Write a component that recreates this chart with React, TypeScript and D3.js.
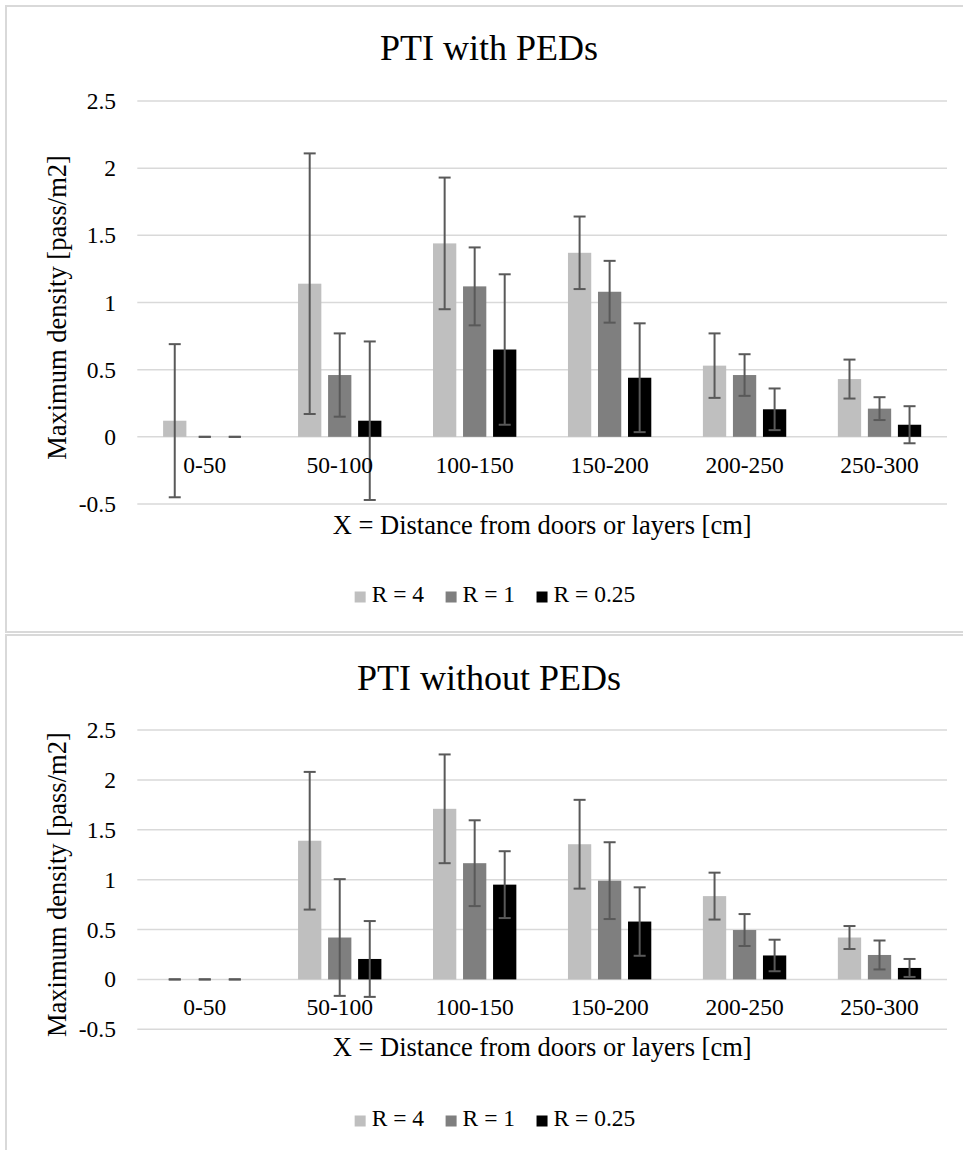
import React, { useEffect, useRef } from "react";
import * as d3 from "d3";

const categories = ["0-50", "50-100", "100-150", "150-200", "200-250", "250-300"];
const seriesNames = ["R = 4", "R = 1", "R = 0.25"];
const seriesColors = ["#bfbfbf", "#7f7f7f", "#000000"];
const yTicks = [-0.5, 0, 0.5, 1, 1.5, 2, 2.5];
const yTickLabels = ["-0.5", "0", "0.5", "1", "1.5", "2", "2.5"];

// PTI with PEDs
const withR4 = [0.12, 1.14, 1.44, 1.37, 0.53, 0.43];
const withR4Err = [0.57, 0.97, 0.49, 0.27, 0.24, 0.145];
const withR1 = [0, 0.46, 1.12, 1.08, 0.46, 0.21];
const withR1Err = [0, 0.31, 0.29, 0.23, 0.155, 0.085];
const withR025 = [0, 0.12, 0.65, 0.44, 0.205, 0.09];
const withR025Err = [0, 0.59, 0.56, 0.405, 0.155, 0.138];

// PTI without PEDs
const withoutR4 = [0, 1.39, 1.71, 1.355, 0.835, 0.42];
const withoutR4Err = [0, 0.69, 0.545, 0.445, 0.235, 0.115];
const withoutR1 = [0, 0.42, 1.165, 0.99, 0.495, 0.245];
const withoutR1Err = [0, 0.585, 0.43, 0.385, 0.16, 0.145];
const withoutR025 = [0, 0.205, 0.95, 0.58, 0.24, 0.115];
const withoutR025Err = [0, 0.38, 0.335, 0.343, 0.158, 0.09];

const titles = ["PTI with PEDs", "PTI without PEDs"];
const xTitle = "X = Distance from doors or layers [cm]";
const yTitle = "Maximum density [pass/m2]";

const FONT = '"Liberation Serif", "Times New Roman", Times, serif';

export default function App() {
  const ref = useRef<SVGSVGElement | null>(null);

  useEffect(() => {
    const svg = d3.select(ref.current);
    svg.selectAll("*").remove();

    const panels = [
      {
        title: titles[0],
        values: [withR4, withR1, withR025],
        errors: [withR4Err, withR1Err, withR025Err],
        box: [6, 6, 975, 626],
        titleY: 60, plotTop: 101, plotBottom: 504, catY: 473, xTitleY: 534, legendY: 602,
      },
      {
        title: titles[1],
        values: [withoutR4, withoutR1, withoutR025],
        errors: [withoutR4Err, withoutR1Err, withoutR025Err],
        box: [6, 635, 975, 600],
        titleY: 690, plotTop: 730, plotBottom: 1029.3, catY: 1015, xTitleY: 1056, legendY: 1126,
      },
    ];

    const plotLeft = 137.3;
    const plotRight = 947;

    const txt = (sel: any, size: number) =>
      sel.style("font-family", FONT).style("font-size", size + "px").attr("fill", "#000");

    panels.forEach((p) => {
      const g = svg.append("g");
      g.append("rect")
        .attr("x", p.box[0]).attr("y", p.box[1])
        .attr("width", p.box[2]).attr("height", p.box[3])
        .attr("fill", "#ffffff").attr("stroke", "#d9d9d9").attr("stroke-width", 2);

      const x = d3.scaleBand<string>().domain(categories).range([plotLeft, plotRight]);
      const y = d3.scaleLinear().domain([-0.5, 2.5]).range([p.plotBottom, p.plotTop]);
      const bw = x.bandwidth();
      const barW = bw * 0.1725;
      const step = bw * 0.2225;

      // gridlines
      g.selectAll(".grid").data(yTicks).enter().append("line")
        .attr("x1", plotLeft).attr("x2", plotRight)
        .attr("y1", (d) => y(d)).attr("y2", (d) => y(d))
        .attr("stroke", "#d9d9d9").attr("stroke-width", 1.5);

      // tick labels
      txt(
        g.selectAll(".tick").data(yTicks).enter().append("text")
          .attr("x", 116).attr("y", (d) => y(d) + 8)
          .attr("text-anchor", "end"),
        23.5
      ).text((d: number, i: number) => yTickLabels[i]);

      // bars
      p.values.forEach((vals, si) => {
        const cx = (c: string) => (x(c) as number) + bw / 2 + (si - 1) * step;
        g.selectAll(".bar" + si).data(categories).enter().append("rect")
          .attr("x", (c) => cx(c) - barW / 2)
          .attr("y", (c, i) => Math.min(y(vals[i]), y(0)))
          .attr("width", barW)
          .attr("height", (c, i) => Math.abs(y(0) - y(vals[i])))
          .attr("fill", seriesColors[si]);
      });

      // error bars
      p.values.forEach((vals, si) => {
        const errs = p.errors[si];
        const cx = (c: string) => (x(c) as number) + bw / 2 + (si - 1) * step;
        const eg = g.append("g").attr("stroke", "#595959").attr("stroke-width", 2);
        categories.forEach((c, i) => {
          const hi = y(vals[i] + errs[i]);
          const lo = y(vals[i] - errs[i]);
          const xc = cx(c);
          eg.append("line").attr("x1", xc).attr("x2", xc).attr("y1", hi).attr("y2", lo);
          eg.append("line").attr("x1", xc - 6).attr("x2", xc + 6).attr("y1", hi).attr("y2", hi);
          eg.append("line").attr("x1", xc - 6).attr("x2", xc + 6).attr("y1", lo).attr("y2", lo);
        });
      });

      // category labels
      txt(
        g.selectAll(".cat").data(categories).enter().append("text")
          .attr("x", (c) => (x(c) as number) + bw / 2)
          .attr("y", p.catY)
          .attr("text-anchor", "middle"),
        23.5
      ).text((c: string) => c);

      // title
      txt(
        g.append("text").attr("x", 489).attr("y", p.titleY).attr("text-anchor", "middle"),
        36
      ).text(p.title);

      // axis titles
      txt(
        g.append("text")
          .attr("x", (plotLeft + plotRight) / 2).attr("y", p.xTitleY)
          .attr("text-anchor", "middle"),
        26.5
      ).text(xTitle);

      const yc = (p.plotTop + p.plotBottom) / 2 + 5;
      txt(
        g.append("text")
          .attr("transform", `translate(66,${yc}) rotate(-90)`)
          .attr("text-anchor", "middle"),
        26.5
      ).text(yTitle);

      // legend
      const lg = g.append("g");
      const items: { g: any; w: number }[] = [];
      seriesNames.forEach((name, si) => {
        const ig = lg.append("g");
        ig.append("rect").attr("x", 0).attr("y", -10.5).attr("width", 11).attr("height", 11)
          .attr("fill", seriesColors[si]);
        const t = txt(ig.append("text").attr("x", 17).attr("y", 0), 23.5).text(name);
        const tw = (t.node() as SVGTextElement).getComputedTextLength();
        items.push({ g: ig, w: 17 + tw });
      });
      const gap = 21.5;
      const total = items.reduce((a, b) => a + b.w, 0) + gap * (items.length - 1);
      let cur = 495 - total / 2;
      items.forEach((it) => {
        it.g.attr("transform", `translate(${cur},${p.legendY})`);
        cur += it.w + gap;
      });
    });
  }, []);

  return (
    <svg
      ref={ref}
      width={963}
      height={1150}
      style={{ position: "absolute", left: 0, top: 0, background: "#fff" }}
    />
  );
}
